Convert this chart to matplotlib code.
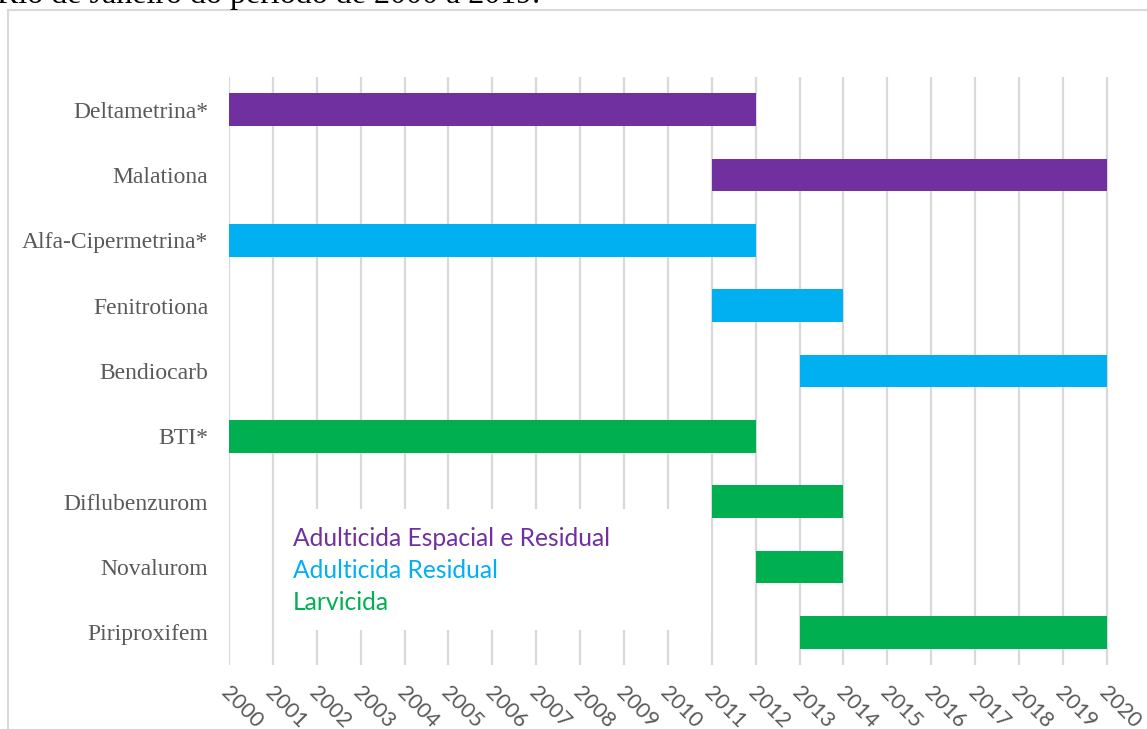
import matplotlib.pyplot as plt
from matplotlib.patches import Rectangle
from matplotlib.lines import Line2D

# produtos e período de uso (ano inicial, ano final)
produtos = ['Deltametrina*', 'Malationa', 'Alfa-Cipermetrina*', 'Fenitrotiona',
            'Bendiocarb', 'BTI*', 'Diflubenzurom', 'Novalurom', 'Piriproxifem']
inicio = [2000, 2011, 2000, 2011, 2013, 2000, 2011, 2012, 2013]
fim = [2012, 2020, 2012, 2014, 2020, 2012, 2014, 2014, 2020]
classe = ['esp', 'esp', 'res', 'res', 'res', 'lar', 'lar', 'lar', 'lar']

cores = {'esp': '#7030A0', 'res': '#00B0F0', 'lar': '#00B050'}
legenda = [('Adulticida Espacial e Residual', 'esp'),
           ('Adulticida Residual', 'res'),
           ('Larvicida', 'lar')]
anos = list(range(2000, 2021))

W, H = 1147, 729
fig = plt.figure(figsize=(W / 100, H / 100), dpi=100)
ax = fig.add_axes([229 / W, 1 - 665 / H, 880 / W, 588 / H])

y = list(range(len(produtos)))
n = len(produtos)

# linhas de grade verticais
ax.vlines(anos, -0.5, n - 0.5, color='#D9D9D9', linewidth=1.6, zorder=0)

for i in y:
    ax.barh(i, fim[i] - inicio[i], left=inicio[i], height=0.5,
            color=cores[classe[i]], zorder=3)

ax.set_xlim(2000, 2020.05)
ax.set_ylim(n - 0.5, -0.5)
ax.set_xticks(anos)
ax.set_xticklabels([])
ax.set_yticks(y)
ax.set_yticklabels(produtos, family='Liberation Serif', fontsize=17, color='#595959')
ax.tick_params(length=0, pad=15)
for s in ax.spines.values():
    s.set_visible(False)

# rótulos dos anos inclinados
for a in anos:
    ax.annotate(str(a), xy=(a, 0), xycoords=('data', 'axes fraction'),
                xytext=(2, -13), textcoords='offset points',
                rotation=-45, rotation_mode='anchor', ha='left', va='top',
                family='Lato', fontsize=15.5, color='#595959')

# caixa da legenda (fundo branco sobre a grade)
ax.add_patch(Rectangle((0.052, 0.06), 0.496, 0.205, transform=ax.transAxes,
                       facecolor='white', edgecolor='none', zorder=1))
for k, (txt, c) in enumerate(legenda):
    fig.text(293 / W, 1 - (538 + 32.5 * k) / H, txt, color=cores[c],
             family='Lato', fontsize=17.7, va='center', ha='left')

# moldura do gráfico
fig.add_artist(Line2D([8 / W, 1], [1 - 10 / H, 1 - 10 / H], color='#D9D9D9', lw=1.5))
fig.add_artist(Line2D([8 / W, 8 / W], [0, 1 - 10 / H], color='#D9D9D9', lw=1.5))

# título cortado no topo
fig.text(-3 / W, 1 - 2.5 / H, 'Rio de Janeiro do período de 2000 a 2019.',
         family='Liberation Serif', fontsize=23, color='black', va='baseline')

fig.savefig('out.png', dpi=100)
